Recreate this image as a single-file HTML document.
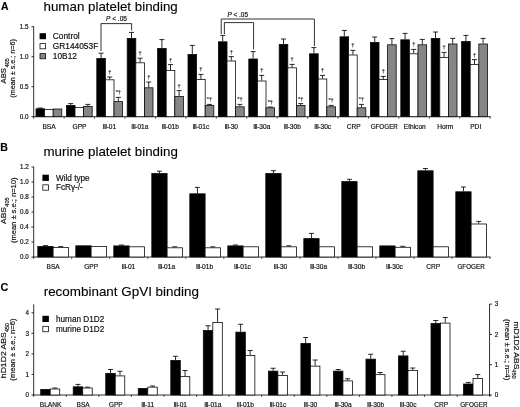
<!DOCTYPE html>
<html><head><meta charset="utf-8"><title>Figure</title>
<style>
html,body{margin:0;padding:0;background:#fff;}
svg{display:block;font-family:"Liberation Sans", Arial, sans-serif;}
</style></head>
<body>
<svg width="520" height="407" viewBox="0 0 520 407">
<rect x="0" y="0" width="520" height="407" fill="#fff"/>
<text x="1.00" y="9.60" font-size="10.4" text-anchor="start" font-weight="bold" fill="#000" stroke="#000" stroke-width="0.12">A</text>
<text x="43.50" y="10.50" font-size="13.35" text-anchor="start" textLength="134.30" lengthAdjust="spacingAndGlyphs" fill="#000" stroke="#000" stroke-width="0.12">human platelet binding</text>
<line x1="33.70" y1="26.30" x2="33.70" y2="117.10" stroke="#1a1a1a" stroke-width="0.9"/>
<line x1="33.30" y1="116.70" x2="490.60" y2="116.70" stroke="#1a1a1a" stroke-width="0.9"/>
<line x1="31.50" y1="116.70" x2="33.70" y2="116.70" stroke="#1a1a1a" stroke-width="0.9"/>
<text x="28.60" y="118.90" font-size="6.3" text-anchor="end" fill="#111" stroke="#111" stroke-width="0.18">0.0</text>
<line x1="31.50" y1="86.70" x2="33.70" y2="86.70" stroke="#1a1a1a" stroke-width="0.9"/>
<text x="28.60" y="88.90" font-size="6.3" text-anchor="end" fill="#111" stroke="#111" stroke-width="0.18">0.5</text>
<line x1="31.50" y1="56.70" x2="33.70" y2="56.70" stroke="#1a1a1a" stroke-width="0.9"/>
<text x="28.60" y="58.90" font-size="6.3" text-anchor="end" fill="#111" stroke="#111" stroke-width="0.18">1.0</text>
<line x1="31.50" y1="26.70" x2="33.70" y2="26.70" stroke="#1a1a1a" stroke-width="0.9"/>
<text x="28.60" y="28.90" font-size="6.3" text-anchor="end" fill="#111" stroke="#111" stroke-width="0.18">1.5</text>
<line x1="33.70" y1="116.70" x2="33.70" y2="118.50" stroke="#1a1a1a" stroke-width="0.9"/>
<line x1="64.13" y1="116.70" x2="64.13" y2="118.50" stroke="#1a1a1a" stroke-width="0.9"/>
<line x1="94.56" y1="116.70" x2="94.56" y2="118.50" stroke="#1a1a1a" stroke-width="0.9"/>
<line x1="124.99" y1="116.70" x2="124.99" y2="118.50" stroke="#1a1a1a" stroke-width="0.9"/>
<line x1="155.42" y1="116.70" x2="155.42" y2="118.50" stroke="#1a1a1a" stroke-width="0.9"/>
<line x1="185.85" y1="116.70" x2="185.85" y2="118.50" stroke="#1a1a1a" stroke-width="0.9"/>
<line x1="216.28" y1="116.70" x2="216.28" y2="118.50" stroke="#1a1a1a" stroke-width="0.9"/>
<line x1="246.71" y1="116.70" x2="246.71" y2="118.50" stroke="#1a1a1a" stroke-width="0.9"/>
<line x1="277.14" y1="116.70" x2="277.14" y2="118.50" stroke="#1a1a1a" stroke-width="0.9"/>
<line x1="307.57" y1="116.70" x2="307.57" y2="118.50" stroke="#1a1a1a" stroke-width="0.9"/>
<line x1="338.00" y1="116.70" x2="338.00" y2="118.50" stroke="#1a1a1a" stroke-width="0.9"/>
<line x1="368.43" y1="116.70" x2="368.43" y2="118.50" stroke="#1a1a1a" stroke-width="0.9"/>
<line x1="398.86" y1="116.70" x2="398.86" y2="118.50" stroke="#1a1a1a" stroke-width="0.9"/>
<line x1="429.29" y1="116.70" x2="429.29" y2="118.50" stroke="#1a1a1a" stroke-width="0.9"/>
<line x1="459.72" y1="116.70" x2="459.72" y2="118.50" stroke="#1a1a1a" stroke-width="0.9"/>
<line x1="490.15" y1="116.70" x2="490.15" y2="118.50" stroke="#1a1a1a" stroke-width="0.9"/>
<line x1="40.30" y1="108.00" x2="40.30" y2="108.40" stroke="#111" stroke-width="0.9"/>
<line x1="37.80" y1="108.00" x2="42.80" y2="108.00" stroke="#111" stroke-width="0.9"/>
<rect x="36.00" y="108.80" width="8.60" height="7.90" fill="#000" stroke="#0a0a0a" stroke-width="0.8"/>
<rect x="44.60" y="109.40" width="8.60" height="7.30" fill="#fff" stroke="#0a0a0a" stroke-width="0.8"/>
<rect x="53.20" y="109.00" width="8.60" height="7.70" fill="#868686" stroke="#0a0a0a" stroke-width="0.8"/>
<text x="49.00" y="128.80" font-size="6.6" text-anchor="middle" fill="#111" stroke="#111" stroke-width="0.18">BSA</text>
<line x1="70.70" y1="103.60" x2="70.70" y2="105.00" stroke="#111" stroke-width="0.9"/>
<line x1="68.20" y1="103.60" x2="73.20" y2="103.60" stroke="#111" stroke-width="0.9"/>
<rect x="66.40" y="105.40" width="8.60" height="11.30" fill="#000" stroke="#0a0a0a" stroke-width="0.8"/>
<rect x="75.00" y="107.40" width="8.60" height="9.30" fill="#fff" stroke="#0a0a0a" stroke-width="0.8"/>
<line x1="87.90" y1="104.40" x2="87.90" y2="106.00" stroke="#111" stroke-width="0.9"/>
<line x1="85.40" y1="104.40" x2="90.40" y2="104.40" stroke="#111" stroke-width="0.9"/>
<rect x="83.60" y="106.40" width="8.60" height="10.30" fill="#868686" stroke="#0a0a0a" stroke-width="0.8"/>
<text x="79.48" y="128.80" font-size="6.6" text-anchor="middle" fill="#111" stroke="#111" stroke-width="0.18">GPP</text>
<line x1="101.10" y1="53.20" x2="101.10" y2="58.00" stroke="#111" stroke-width="0.9"/>
<line x1="98.60" y1="53.20" x2="103.60" y2="53.20" stroke="#111" stroke-width="0.9"/>
<rect x="96.80" y="58.40" width="8.60" height="58.30" fill="#000" stroke="#0a0a0a" stroke-width="0.8"/>
<line x1="109.70" y1="77.00" x2="109.70" y2="79.40" stroke="#111" stroke-width="0.9"/>
<line x1="107.20" y1="77.00" x2="112.20" y2="77.00" stroke="#111" stroke-width="0.9"/>
<rect x="105.40" y="79.80" width="8.60" height="36.90" fill="#fff" stroke="#0a0a0a" stroke-width="0.8"/>
<line x1="118.30" y1="97.40" x2="118.30" y2="101.20" stroke="#111" stroke-width="0.9"/>
<line x1="115.80" y1="97.40" x2="120.80" y2="97.40" stroke="#111" stroke-width="0.9"/>
<rect x="114.00" y="101.60" width="8.60" height="15.10" fill="#868686" stroke="#0a0a0a" stroke-width="0.8"/>
<text x="109.36" y="128.80" font-size="6.6" text-anchor="middle" fill="#111" stroke="#111" stroke-width="0.18"><tspan letter-spacing="-0.5">III</tspan>-01</text>
<text x="109.70" y="74.00" font-size="5.6" text-anchor="middle" fill="#333" stroke="#333" stroke-width="0.18">†</text>
<text x="118.30" y="94.40" font-size="5.6" text-anchor="middle" fill="#333" stroke="#333" stroke-width="0.18">*†</text>
<line x1="131.50" y1="32.40" x2="131.50" y2="38.00" stroke="#111" stroke-width="0.9"/>
<line x1="129.00" y1="32.40" x2="134.00" y2="32.40" stroke="#111" stroke-width="0.9"/>
<rect x="127.20" y="38.40" width="8.60" height="78.30" fill="#000" stroke="#0a0a0a" stroke-width="0.8"/>
<line x1="140.10" y1="58.20" x2="140.10" y2="62.40" stroke="#111" stroke-width="0.9"/>
<line x1="137.60" y1="58.20" x2="142.60" y2="58.20" stroke="#111" stroke-width="0.9"/>
<rect x="135.80" y="62.80" width="8.60" height="53.90" fill="#fff" stroke="#0a0a0a" stroke-width="0.8"/>
<line x1="148.70" y1="82.00" x2="148.70" y2="87.40" stroke="#111" stroke-width="0.9"/>
<line x1="146.20" y1="82.00" x2="151.20" y2="82.00" stroke="#111" stroke-width="0.9"/>
<rect x="144.40" y="87.80" width="8.60" height="28.90" fill="#868686" stroke="#0a0a0a" stroke-width="0.8"/>
<text x="139.84" y="128.80" font-size="6.6" text-anchor="middle" fill="#111" stroke="#111" stroke-width="0.18"><tspan letter-spacing="-0.5">III</tspan>-01a</text>
<text x="140.10" y="55.20" font-size="5.6" text-anchor="middle" fill="#333" stroke="#333" stroke-width="0.18">†</text>
<text x="148.70" y="79.00" font-size="5.6" text-anchor="middle" fill="#333" stroke="#333" stroke-width="0.18">†</text>
<line x1="161.90" y1="39.60" x2="161.90" y2="48.00" stroke="#111" stroke-width="0.9"/>
<line x1="159.40" y1="39.60" x2="164.40" y2="39.60" stroke="#111" stroke-width="0.9"/>
<rect x="157.60" y="48.40" width="8.60" height="68.30" fill="#000" stroke="#0a0a0a" stroke-width="0.8"/>
<line x1="170.50" y1="64.60" x2="170.50" y2="70.00" stroke="#111" stroke-width="0.9"/>
<line x1="168.00" y1="64.60" x2="173.00" y2="64.60" stroke="#111" stroke-width="0.9"/>
<rect x="166.20" y="70.40" width="8.60" height="46.30" fill="#fff" stroke="#0a0a0a" stroke-width="0.8"/>
<line x1="179.10" y1="90.60" x2="179.10" y2="96.00" stroke="#111" stroke-width="0.9"/>
<line x1="176.60" y1="90.60" x2="181.60" y2="90.60" stroke="#111" stroke-width="0.9"/>
<rect x="174.80" y="96.40" width="8.60" height="20.30" fill="#868686" stroke="#0a0a0a" stroke-width="0.8"/>
<text x="170.32" y="128.80" font-size="6.6" text-anchor="middle" fill="#111" stroke="#111" stroke-width="0.18"><tspan letter-spacing="-0.5">III</tspan>-01b</text>
<text x="170.50" y="61.60" font-size="5.6" text-anchor="middle" fill="#333" stroke="#333" stroke-width="0.18">†</text>
<text x="179.10" y="87.60" font-size="5.6" text-anchor="middle" fill="#333" stroke="#333" stroke-width="0.18">†</text>
<line x1="192.30" y1="45.40" x2="192.30" y2="54.00" stroke="#111" stroke-width="0.9"/>
<line x1="189.80" y1="45.40" x2="194.80" y2="45.40" stroke="#111" stroke-width="0.9"/>
<rect x="188.00" y="54.40" width="8.60" height="62.30" fill="#000" stroke="#0a0a0a" stroke-width="0.8"/>
<line x1="200.90" y1="74.40" x2="200.90" y2="79.00" stroke="#111" stroke-width="0.9"/>
<line x1="198.40" y1="74.40" x2="203.40" y2="74.40" stroke="#111" stroke-width="0.9"/>
<rect x="196.60" y="79.40" width="8.60" height="37.30" fill="#fff" stroke="#0a0a0a" stroke-width="0.8"/>
<line x1="209.50" y1="104.40" x2="209.50" y2="105.00" stroke="#111" stroke-width="0.9"/>
<line x1="207.00" y1="104.40" x2="212.00" y2="104.40" stroke="#111" stroke-width="0.9"/>
<rect x="205.20" y="105.40" width="8.60" height="11.30" fill="#868686" stroke="#0a0a0a" stroke-width="0.8"/>
<text x="200.80" y="128.80" font-size="6.6" text-anchor="middle" fill="#111" stroke="#111" stroke-width="0.18"><tspan letter-spacing="-0.5">III</tspan>-01c</text>
<text x="200.90" y="71.40" font-size="5.6" text-anchor="middle" fill="#333" stroke="#333" stroke-width="0.18">†</text>
<text x="209.50" y="101.40" font-size="5.6" text-anchor="middle" fill="#333" stroke="#333" stroke-width="0.18">*†</text>
<line x1="222.70" y1="35.40" x2="222.70" y2="41.40" stroke="#111" stroke-width="0.9"/>
<line x1="220.20" y1="35.40" x2="225.20" y2="35.40" stroke="#111" stroke-width="0.9"/>
<rect x="218.40" y="41.80" width="8.60" height="74.90" fill="#000" stroke="#0a0a0a" stroke-width="0.8"/>
<line x1="231.30" y1="56.60" x2="231.30" y2="60.60" stroke="#111" stroke-width="0.9"/>
<line x1="228.80" y1="56.60" x2="233.80" y2="56.60" stroke="#111" stroke-width="0.9"/>
<rect x="227.00" y="61.00" width="8.60" height="55.70" fill="#fff" stroke="#0a0a0a" stroke-width="0.8"/>
<line x1="239.90" y1="104.40" x2="239.90" y2="106.40" stroke="#111" stroke-width="0.9"/>
<line x1="237.40" y1="104.40" x2="242.40" y2="104.40" stroke="#111" stroke-width="0.9"/>
<rect x="235.60" y="106.80" width="8.60" height="9.90" fill="#868686" stroke="#0a0a0a" stroke-width="0.8"/>
<text x="231.28" y="128.80" font-size="6.6" text-anchor="middle" fill="#111" stroke="#111" stroke-width="0.18"><tspan letter-spacing="-0.5">III</tspan>-30</text>
<text x="231.30" y="53.60" font-size="5.6" text-anchor="middle" fill="#333" stroke="#333" stroke-width="0.18">†</text>
<text x="239.90" y="101.40" font-size="5.6" text-anchor="middle" fill="#333" stroke="#333" stroke-width="0.18">*†</text>
<line x1="253.10" y1="51.60" x2="253.10" y2="58.60" stroke="#111" stroke-width="0.9"/>
<line x1="250.60" y1="51.60" x2="255.60" y2="51.60" stroke="#111" stroke-width="0.9"/>
<rect x="248.80" y="59.00" width="8.60" height="57.70" fill="#000" stroke="#0a0a0a" stroke-width="0.8"/>
<line x1="261.70" y1="75.40" x2="261.70" y2="80.60" stroke="#111" stroke-width="0.9"/>
<line x1="259.20" y1="75.40" x2="264.20" y2="75.40" stroke="#111" stroke-width="0.9"/>
<rect x="257.40" y="81.00" width="8.60" height="35.70" fill="#fff" stroke="#0a0a0a" stroke-width="0.8"/>
<line x1="270.30" y1="107.00" x2="270.30" y2="107.40" stroke="#111" stroke-width="0.9"/>
<line x1="267.80" y1="107.00" x2="272.80" y2="107.00" stroke="#111" stroke-width="0.9"/>
<rect x="266.00" y="107.80" width="8.60" height="8.90" fill="#868686" stroke="#0a0a0a" stroke-width="0.8"/>
<text x="261.76" y="128.80" font-size="6.6" text-anchor="middle" fill="#111" stroke="#111" stroke-width="0.18"><tspan letter-spacing="-0.5">III</tspan>-30a</text>
<text x="261.70" y="72.40" font-size="5.6" text-anchor="middle" fill="#333" stroke="#333" stroke-width="0.18">†</text>
<text x="270.30" y="104.00" font-size="5.6" text-anchor="middle" fill="#333" stroke="#333" stroke-width="0.18">*†</text>
<line x1="283.50" y1="39.00" x2="283.50" y2="44.00" stroke="#111" stroke-width="0.9"/>
<line x1="281.00" y1="39.00" x2="286.00" y2="39.00" stroke="#111" stroke-width="0.9"/>
<rect x="279.20" y="44.40" width="8.60" height="72.30" fill="#000" stroke="#0a0a0a" stroke-width="0.8"/>
<line x1="292.10" y1="64.40" x2="292.10" y2="67.40" stroke="#111" stroke-width="0.9"/>
<line x1="289.60" y1="64.40" x2="294.60" y2="64.40" stroke="#111" stroke-width="0.9"/>
<rect x="287.80" y="67.80" width="8.60" height="48.90" fill="#fff" stroke="#0a0a0a" stroke-width="0.8"/>
<line x1="300.70" y1="103.60" x2="300.70" y2="105.00" stroke="#111" stroke-width="0.9"/>
<line x1="298.20" y1="103.60" x2="303.20" y2="103.60" stroke="#111" stroke-width="0.9"/>
<rect x="296.40" y="105.40" width="8.60" height="11.30" fill="#868686" stroke="#0a0a0a" stroke-width="0.8"/>
<text x="292.24" y="128.80" font-size="6.6" text-anchor="middle" fill="#111" stroke="#111" stroke-width="0.18"><tspan letter-spacing="-0.5">III</tspan>-30b</text>
<text x="292.10" y="61.40" font-size="5.6" text-anchor="middle" fill="#333" stroke="#333" stroke-width="0.18">†</text>
<text x="300.70" y="100.60" font-size="5.6" text-anchor="middle" fill="#333" stroke="#333" stroke-width="0.18">*†</text>
<line x1="313.90" y1="47.60" x2="313.90" y2="53.40" stroke="#111" stroke-width="0.9"/>
<line x1="311.40" y1="47.60" x2="316.40" y2="47.60" stroke="#111" stroke-width="0.9"/>
<rect x="309.60" y="53.80" width="8.60" height="62.90" fill="#000" stroke="#0a0a0a" stroke-width="0.8"/>
<line x1="322.50" y1="75.40" x2="322.50" y2="78.60" stroke="#111" stroke-width="0.9"/>
<line x1="320.00" y1="75.40" x2="325.00" y2="75.40" stroke="#111" stroke-width="0.9"/>
<rect x="318.20" y="79.00" width="8.60" height="37.70" fill="#fff" stroke="#0a0a0a" stroke-width="0.8"/>
<line x1="331.10" y1="105.40" x2="331.10" y2="106.40" stroke="#111" stroke-width="0.9"/>
<line x1="328.60" y1="105.40" x2="333.60" y2="105.40" stroke="#111" stroke-width="0.9"/>
<rect x="326.80" y="106.80" width="8.60" height="9.90" fill="#868686" stroke="#0a0a0a" stroke-width="0.8"/>
<text x="322.72" y="128.80" font-size="6.6" text-anchor="middle" fill="#111" stroke="#111" stroke-width="0.18"><tspan letter-spacing="-0.5">III</tspan>-30c</text>
<text x="322.50" y="72.40" font-size="5.6" text-anchor="middle" fill="#333" stroke="#333" stroke-width="0.18">†</text>
<text x="331.10" y="102.40" font-size="5.6" text-anchor="middle" fill="#333" stroke="#333" stroke-width="0.18">*†</text>
<line x1="344.30" y1="30.40" x2="344.30" y2="36.40" stroke="#111" stroke-width="0.9"/>
<line x1="341.80" y1="30.40" x2="346.80" y2="30.40" stroke="#111" stroke-width="0.9"/>
<rect x="340.00" y="36.80" width="8.60" height="79.90" fill="#000" stroke="#0a0a0a" stroke-width="0.8"/>
<line x1="352.90" y1="50.40" x2="352.90" y2="54.60" stroke="#111" stroke-width="0.9"/>
<line x1="350.40" y1="50.40" x2="355.40" y2="50.40" stroke="#111" stroke-width="0.9"/>
<rect x="348.60" y="55.00" width="8.60" height="61.70" fill="#fff" stroke="#0a0a0a" stroke-width="0.8"/>
<line x1="361.50" y1="104.40" x2="361.50" y2="107.40" stroke="#111" stroke-width="0.9"/>
<line x1="359.00" y1="104.40" x2="364.00" y2="104.40" stroke="#111" stroke-width="0.9"/>
<rect x="357.20" y="107.80" width="8.60" height="8.90" fill="#868686" stroke="#0a0a0a" stroke-width="0.8"/>
<text x="353.80" y="128.80" font-size="6.6" text-anchor="middle" fill="#111" stroke="#111" stroke-width="0.18">CRP</text>
<text x="352.90" y="47.40" font-size="5.6" text-anchor="middle" fill="#333" stroke="#333" stroke-width="0.18">†</text>
<text x="361.50" y="101.40" font-size="5.6" text-anchor="middle" fill="#333" stroke="#333" stroke-width="0.18">*†</text>
<line x1="374.70" y1="37.00" x2="374.70" y2="42.00" stroke="#111" stroke-width="0.9"/>
<line x1="372.20" y1="37.00" x2="377.20" y2="37.00" stroke="#111" stroke-width="0.9"/>
<rect x="370.40" y="42.40" width="8.60" height="74.30" fill="#000" stroke="#0a0a0a" stroke-width="0.8"/>
<line x1="383.30" y1="76.40" x2="383.30" y2="79.00" stroke="#111" stroke-width="0.9"/>
<line x1="380.80" y1="76.40" x2="385.80" y2="76.40" stroke="#111" stroke-width="0.9"/>
<rect x="379.00" y="79.40" width="8.60" height="37.30" fill="#fff" stroke="#0a0a0a" stroke-width="0.8"/>
<line x1="391.90" y1="38.60" x2="391.90" y2="44.40" stroke="#111" stroke-width="0.9"/>
<line x1="389.40" y1="38.60" x2="394.40" y2="38.60" stroke="#111" stroke-width="0.9"/>
<rect x="387.60" y="44.80" width="8.60" height="71.90" fill="#868686" stroke="#0a0a0a" stroke-width="0.8"/>
<text x="384.28" y="128.80" font-size="6.6" text-anchor="middle" fill="#111" stroke="#111" stroke-width="0.18"><tspan font-size="6.3">GFOGER</tspan></text>
<text x="383.30" y="73.40" font-size="5.6" text-anchor="middle" fill="#333" stroke="#333" stroke-width="0.18">†</text>
<line x1="405.10" y1="33.40" x2="405.10" y2="39.40" stroke="#111" stroke-width="0.9"/>
<line x1="402.60" y1="33.40" x2="407.60" y2="33.40" stroke="#111" stroke-width="0.9"/>
<rect x="400.80" y="39.80" width="8.60" height="76.90" fill="#000" stroke="#0a0a0a" stroke-width="0.8"/>
<line x1="413.70" y1="49.40" x2="413.70" y2="53.40" stroke="#111" stroke-width="0.9"/>
<line x1="411.20" y1="49.40" x2="416.20" y2="49.40" stroke="#111" stroke-width="0.9"/>
<rect x="409.40" y="53.80" width="8.60" height="62.90" fill="#fff" stroke="#0a0a0a" stroke-width="0.8"/>
<line x1="422.30" y1="39.40" x2="422.30" y2="44.40" stroke="#111" stroke-width="0.9"/>
<line x1="419.80" y1="39.40" x2="424.80" y2="39.40" stroke="#111" stroke-width="0.9"/>
<rect x="418.00" y="44.80" width="8.60" height="71.90" fill="#868686" stroke="#0a0a0a" stroke-width="0.8"/>
<text x="414.76" y="128.80" font-size="6.6" text-anchor="middle" fill="#111" stroke="#111" stroke-width="0.18">Ethicon</text>
<text x="413.70" y="46.40" font-size="5.6" text-anchor="middle" fill="#333" stroke="#333" stroke-width="0.18">†</text>
<line x1="435.50" y1="32.00" x2="435.50" y2="38.00" stroke="#111" stroke-width="0.9"/>
<line x1="433.00" y1="32.00" x2="438.00" y2="32.00" stroke="#111" stroke-width="0.9"/>
<rect x="431.20" y="38.40" width="8.60" height="78.30" fill="#000" stroke="#0a0a0a" stroke-width="0.8"/>
<line x1="444.10" y1="52.40" x2="444.10" y2="57.00" stroke="#111" stroke-width="0.9"/>
<line x1="441.60" y1="52.40" x2="446.60" y2="52.40" stroke="#111" stroke-width="0.9"/>
<rect x="439.80" y="57.40" width="8.60" height="59.30" fill="#fff" stroke="#0a0a0a" stroke-width="0.8"/>
<line x1="452.70" y1="38.40" x2="452.70" y2="43.60" stroke="#111" stroke-width="0.9"/>
<line x1="450.20" y1="38.40" x2="455.20" y2="38.40" stroke="#111" stroke-width="0.9"/>
<rect x="448.40" y="44.00" width="8.60" height="72.70" fill="#868686" stroke="#0a0a0a" stroke-width="0.8"/>
<text x="445.24" y="128.80" font-size="6.6" text-anchor="middle" fill="#111" stroke="#111" stroke-width="0.18">Horm</text>
<text x="444.10" y="49.40" font-size="5.6" text-anchor="middle" fill="#333" stroke="#333" stroke-width="0.18">†</text>
<line x1="465.90" y1="35.40" x2="465.90" y2="41.00" stroke="#111" stroke-width="0.9"/>
<line x1="463.40" y1="35.40" x2="468.40" y2="35.40" stroke="#111" stroke-width="0.9"/>
<rect x="461.60" y="41.40" width="8.60" height="75.30" fill="#000" stroke="#0a0a0a" stroke-width="0.8"/>
<line x1="474.50" y1="59.60" x2="474.50" y2="64.00" stroke="#111" stroke-width="0.9"/>
<line x1="472.00" y1="59.60" x2="477.00" y2="59.60" stroke="#111" stroke-width="0.9"/>
<rect x="470.20" y="64.40" width="8.60" height="52.30" fill="#fff" stroke="#0a0a0a" stroke-width="0.8"/>
<line x1="483.10" y1="38.40" x2="483.10" y2="43.60" stroke="#111" stroke-width="0.9"/>
<line x1="480.60" y1="38.40" x2="485.60" y2="38.40" stroke="#111" stroke-width="0.9"/>
<rect x="478.80" y="44.00" width="8.60" height="72.70" fill="#868686" stroke="#0a0a0a" stroke-width="0.8"/>
<text x="475.72" y="128.80" font-size="6.6" text-anchor="middle" fill="#111" stroke="#111" stroke-width="0.18">PDI</text>
<text x="474.50" y="56.60" font-size="5.6" text-anchor="middle" fill="#333" stroke="#333" stroke-width="0.18">†</text>
<rect x="39.6" y="33.20" width="6.4" height="6.0" fill="#000"/>
<text x="52.80" y="38.90" font-size="8.35" text-anchor="start" fill="#111" stroke="#111" stroke-width="0.18">Control</text>
<rect x="40.0" y="43.60" width="5.6" height="5.2" fill="#fff" stroke="#111" stroke-width="0.8"/>
<text x="52.80" y="49.05" font-size="8.35" text-anchor="start" fill="#111" stroke="#111" stroke-width="0.18">GR144053F</text>
<rect x="40.0" y="53.60" width="5.6" height="5.2" fill="#868686" stroke="#111" stroke-width="0.8"/>
<text x="52.80" y="59.20" font-size="8.35" text-anchor="start" fill="#111" stroke="#111" stroke-width="0.18">10B12</text>
<polyline fill="none" stroke="#1c1c1c" stroke-width="0.9" points="101.00,51.00 101.00,23.60 131.60,23.60 131.60,30.50"/>
<text x="106.00" y="21.00" font-size="6.3" text-anchor="start" textLength="21.00" lengthAdjust="spacingAndGlyphs" fill="#111" stroke="#111" stroke-width="0.18"><tspan font-style="italic">P</tspan> &lt; .05</text>
<polyline fill="none" stroke="#1c1c1c" stroke-width="0.9" points="221.20,34.00 221.20,19.00 314.40,19.00 314.40,46.00"/>
<polyline fill="none" stroke="#1c1c1c" stroke-width="0.9" points="224.40,34.00 224.40,22.60 253.60,22.60 253.60,49.40"/>
<text x="227.40" y="16.60" font-size="6.3" text-anchor="start" textLength="20.60" lengthAdjust="spacingAndGlyphs" fill="#111" stroke="#111" stroke-width="0.18"><tspan font-style="italic">P</tspan> &lt; .05</text>
<text x="5.90" y="83.45" font-size="7.1" text-anchor="start" textLength="15.40" lengthAdjust="spacingAndGlyphs" transform="rotate(-90 5.90 83.45)" fill="#111" stroke="#111" stroke-width="0.18">ABS</text>
<text x="9.30" y="67.25" font-size="5.6" text-anchor="start" textLength="8.90" lengthAdjust="spacingAndGlyphs" transform="rotate(-90 9.30 67.25)" fill="#111" stroke="#111" stroke-width="0.18">405</text>
<text x="15.20" y="97.65" font-size="7.1" text-anchor="start" textLength="58.60" lengthAdjust="spacingAndGlyphs" transform="rotate(-90 15.20 97.65)" fill="#111" stroke="#111" stroke-width="0.18">(mean ± s.e.; n=6)</text>
<text x="0.30" y="151.20" font-size="10.6" text-anchor="start" font-weight="bold" fill="#000" stroke="#000" stroke-width="0.12">B</text>
<text x="43.50" y="156.30" font-size="13.35" text-anchor="start" textLength="134.30" lengthAdjust="spacingAndGlyphs" fill="#000" stroke="#000" stroke-width="0.12">murine platelet binding</text>
<line x1="33.70" y1="166.60" x2="33.70" y2="257.40" stroke="#1a1a1a" stroke-width="0.9"/>
<line x1="33.30" y1="257.00" x2="490.60" y2="257.00" stroke="#1a1a1a" stroke-width="0.9"/>
<line x1="31.50" y1="257.00" x2="33.70" y2="257.00" stroke="#1a1a1a" stroke-width="0.9"/>
<text x="28.80" y="259.20" font-size="6.3" text-anchor="end" fill="#111" stroke="#111" stroke-width="0.18">0.0</text>
<line x1="31.50" y1="242.00" x2="33.70" y2="242.00" stroke="#1a1a1a" stroke-width="0.9"/>
<text x="28.80" y="244.20" font-size="6.3" text-anchor="end" fill="#111" stroke="#111" stroke-width="0.18">0.2</text>
<line x1="31.50" y1="227.00" x2="33.70" y2="227.00" stroke="#1a1a1a" stroke-width="0.9"/>
<text x="28.80" y="229.20" font-size="6.3" text-anchor="end" fill="#111" stroke="#111" stroke-width="0.18">0.4</text>
<line x1="31.50" y1="212.00" x2="33.70" y2="212.00" stroke="#1a1a1a" stroke-width="0.9"/>
<text x="28.80" y="214.20" font-size="6.3" text-anchor="end" fill="#111" stroke="#111" stroke-width="0.18">0.6</text>
<line x1="31.50" y1="197.00" x2="33.70" y2="197.00" stroke="#1a1a1a" stroke-width="0.9"/>
<text x="28.80" y="199.20" font-size="6.3" text-anchor="end" fill="#111" stroke="#111" stroke-width="0.18">0.8</text>
<line x1="31.50" y1="182.00" x2="33.70" y2="182.00" stroke="#1a1a1a" stroke-width="0.9"/>
<text x="28.80" y="184.20" font-size="6.3" text-anchor="end" fill="#111" stroke="#111" stroke-width="0.18">1.0</text>
<line x1="31.50" y1="167.00" x2="33.70" y2="167.00" stroke="#1a1a1a" stroke-width="0.9"/>
<text x="28.80" y="169.20" font-size="6.3" text-anchor="end" fill="#111" stroke="#111" stroke-width="0.18">1.2</text>
<line x1="33.70" y1="257.00" x2="33.70" y2="258.80" stroke="#1a1a1a" stroke-width="0.9"/>
<line x1="71.73" y1="257.00" x2="71.73" y2="258.80" stroke="#1a1a1a" stroke-width="0.9"/>
<line x1="109.76" y1="257.00" x2="109.76" y2="258.80" stroke="#1a1a1a" stroke-width="0.9"/>
<line x1="147.79" y1="257.00" x2="147.79" y2="258.80" stroke="#1a1a1a" stroke-width="0.9"/>
<line x1="185.82" y1="257.00" x2="185.82" y2="258.80" stroke="#1a1a1a" stroke-width="0.9"/>
<line x1="223.85" y1="257.00" x2="223.85" y2="258.80" stroke="#1a1a1a" stroke-width="0.9"/>
<line x1="261.88" y1="257.00" x2="261.88" y2="258.80" stroke="#1a1a1a" stroke-width="0.9"/>
<line x1="299.91" y1="257.00" x2="299.91" y2="258.80" stroke="#1a1a1a" stroke-width="0.9"/>
<line x1="337.94" y1="257.00" x2="337.94" y2="258.80" stroke="#1a1a1a" stroke-width="0.9"/>
<line x1="375.97" y1="257.00" x2="375.97" y2="258.80" stroke="#1a1a1a" stroke-width="0.9"/>
<line x1="414.00" y1="257.00" x2="414.00" y2="258.80" stroke="#1a1a1a" stroke-width="0.9"/>
<line x1="452.03" y1="257.00" x2="452.03" y2="258.80" stroke="#1a1a1a" stroke-width="0.9"/>
<line x1="490.06" y1="257.00" x2="490.06" y2="258.80" stroke="#1a1a1a" stroke-width="0.9"/>
<line x1="45.45" y1="245.60" x2="45.45" y2="246.00" stroke="#111" stroke-width="0.9"/>
<line x1="42.95" y1="245.60" x2="47.95" y2="245.60" stroke="#111" stroke-width="0.9"/>
<rect x="37.80" y="246.40" width="15.30" height="10.60" fill="#000" stroke="#0a0a0a" stroke-width="0.8"/>
<line x1="60.75" y1="246.60" x2="60.75" y2="247.00" stroke="#111" stroke-width="0.9"/>
<line x1="58.25" y1="246.60" x2="63.25" y2="246.60" stroke="#111" stroke-width="0.9"/>
<rect x="53.10" y="247.40" width="15.30" height="9.60" fill="#fff" stroke="#0a0a0a" stroke-width="0.8"/>
<text x="53.10" y="269.40" font-size="6.6" text-anchor="middle" fill="#111" stroke="#111" stroke-width="0.18">BSA</text>
<rect x="75.80" y="245.80" width="15.30" height="11.20" fill="#000" stroke="#0a0a0a" stroke-width="0.8"/>
<rect x="91.10" y="246.40" width="15.30" height="10.60" fill="#fff" stroke="#0a0a0a" stroke-width="0.8"/>
<text x="91.10" y="269.40" font-size="6.6" text-anchor="middle" fill="#111" stroke="#111" stroke-width="0.18">GPP</text>
<line x1="121.45" y1="245.00" x2="121.45" y2="245.50" stroke="#111" stroke-width="0.9"/>
<line x1="118.95" y1="245.00" x2="123.95" y2="245.00" stroke="#111" stroke-width="0.9"/>
<rect x="113.80" y="245.90" width="15.30" height="11.10" fill="#000" stroke="#0a0a0a" stroke-width="0.8"/>
<rect x="129.10" y="246.80" width="15.30" height="10.20" fill="#fff" stroke="#0a0a0a" stroke-width="0.8"/>
<text x="128.50" y="269.40" font-size="6.6" text-anchor="middle" fill="#111" stroke="#111" stroke-width="0.18"><tspan letter-spacing="-0.5">III</tspan>-01</text>
<line x1="159.45" y1="171.20" x2="159.45" y2="173.10" stroke="#111" stroke-width="0.9"/>
<line x1="156.95" y1="171.20" x2="161.95" y2="171.20" stroke="#111" stroke-width="0.9"/>
<rect x="151.80" y="173.50" width="15.30" height="83.50" fill="#000" stroke="#0a0a0a" stroke-width="0.8"/>
<line x1="174.75" y1="246.80" x2="174.75" y2="247.40" stroke="#111" stroke-width="0.9"/>
<line x1="172.25" y1="246.80" x2="177.25" y2="246.80" stroke="#111" stroke-width="0.9"/>
<rect x="167.10" y="247.80" width="15.30" height="9.20" fill="#fff" stroke="#0a0a0a" stroke-width="0.8"/>
<text x="166.50" y="269.40" font-size="6.6" text-anchor="middle" fill="#111" stroke="#111" stroke-width="0.18"><tspan letter-spacing="-0.5">III</tspan>-01a</text>
<line x1="197.45" y1="187.40" x2="197.45" y2="193.40" stroke="#111" stroke-width="0.9"/>
<line x1="194.95" y1="187.40" x2="199.95" y2="187.40" stroke="#111" stroke-width="0.9"/>
<rect x="189.80" y="193.80" width="15.30" height="63.20" fill="#000" stroke="#0a0a0a" stroke-width="0.8"/>
<line x1="212.75" y1="246.80" x2="212.75" y2="247.40" stroke="#111" stroke-width="0.9"/>
<line x1="210.25" y1="246.80" x2="215.25" y2="246.80" stroke="#111" stroke-width="0.9"/>
<rect x="205.10" y="247.80" width="15.30" height="9.20" fill="#fff" stroke="#0a0a0a" stroke-width="0.8"/>
<text x="204.50" y="269.40" font-size="6.6" text-anchor="middle" fill="#111" stroke="#111" stroke-width="0.18"><tspan letter-spacing="-0.5">III</tspan>-01b</text>
<line x1="235.45" y1="245.00" x2="235.45" y2="245.50" stroke="#111" stroke-width="0.9"/>
<line x1="232.95" y1="245.00" x2="237.95" y2="245.00" stroke="#111" stroke-width="0.9"/>
<rect x="227.80" y="245.90" width="15.30" height="11.10" fill="#000" stroke="#0a0a0a" stroke-width="0.8"/>
<rect x="243.10" y="246.80" width="15.30" height="10.20" fill="#fff" stroke="#0a0a0a" stroke-width="0.8"/>
<text x="242.50" y="269.40" font-size="6.6" text-anchor="middle" fill="#111" stroke="#111" stroke-width="0.18"><tspan letter-spacing="-0.5">III</tspan>-01c</text>
<line x1="273.45" y1="170.70" x2="273.45" y2="173.10" stroke="#111" stroke-width="0.9"/>
<line x1="270.95" y1="170.70" x2="275.95" y2="170.70" stroke="#111" stroke-width="0.9"/>
<rect x="265.80" y="173.50" width="15.30" height="83.50" fill="#000" stroke="#0a0a0a" stroke-width="0.8"/>
<line x1="288.75" y1="245.80" x2="288.75" y2="246.40" stroke="#111" stroke-width="0.9"/>
<line x1="286.25" y1="245.80" x2="291.25" y2="245.80" stroke="#111" stroke-width="0.9"/>
<rect x="281.10" y="246.80" width="15.30" height="10.20" fill="#fff" stroke="#0a0a0a" stroke-width="0.8"/>
<text x="280.50" y="269.40" font-size="6.6" text-anchor="middle" fill="#111" stroke="#111" stroke-width="0.18"><tspan letter-spacing="-0.5">III</tspan>-30</text>
<line x1="311.45" y1="233.40" x2="311.45" y2="238.20" stroke="#111" stroke-width="0.9"/>
<line x1="308.95" y1="233.40" x2="313.95" y2="233.40" stroke="#111" stroke-width="0.9"/>
<rect x="303.80" y="238.60" width="15.30" height="18.40" fill="#000" stroke="#0a0a0a" stroke-width="0.8"/>
<rect x="319.10" y="246.80" width="15.30" height="10.20" fill="#fff" stroke="#0a0a0a" stroke-width="0.8"/>
<text x="318.50" y="269.40" font-size="6.6" text-anchor="middle" fill="#111" stroke="#111" stroke-width="0.18"><tspan letter-spacing="-0.5">III</tspan>-30a</text>
<line x1="349.45" y1="179.30" x2="349.45" y2="181.20" stroke="#111" stroke-width="0.9"/>
<line x1="346.95" y1="179.30" x2="351.95" y2="179.30" stroke="#111" stroke-width="0.9"/>
<rect x="341.80" y="181.60" width="15.30" height="75.40" fill="#000" stroke="#0a0a0a" stroke-width="0.8"/>
<rect x="357.10" y="246.80" width="15.30" height="10.20" fill="#fff" stroke="#0a0a0a" stroke-width="0.8"/>
<text x="356.50" y="269.40" font-size="6.6" text-anchor="middle" fill="#111" stroke="#111" stroke-width="0.18"><tspan letter-spacing="-0.5">III</tspan>-30b</text>
<rect x="379.80" y="245.90" width="15.30" height="11.10" fill="#000" stroke="#0a0a0a" stroke-width="0.8"/>
<line x1="402.75" y1="246.30" x2="402.75" y2="246.90" stroke="#111" stroke-width="0.9"/>
<line x1="400.25" y1="246.30" x2="405.25" y2="246.30" stroke="#111" stroke-width="0.9"/>
<rect x="395.10" y="247.30" width="15.30" height="9.70" fill="#fff" stroke="#0a0a0a" stroke-width="0.8"/>
<text x="394.50" y="269.40" font-size="6.6" text-anchor="middle" fill="#111" stroke="#111" stroke-width="0.18"><tspan letter-spacing="-0.5">III</tspan>-30c</text>
<line x1="425.45" y1="168.50" x2="425.45" y2="170.40" stroke="#111" stroke-width="0.9"/>
<line x1="422.95" y1="168.50" x2="427.95" y2="168.50" stroke="#111" stroke-width="0.9"/>
<rect x="417.80" y="170.80" width="15.30" height="86.20" fill="#000" stroke="#0a0a0a" stroke-width="0.8"/>
<rect x="433.10" y="246.80" width="15.30" height="10.20" fill="#fff" stroke="#0a0a0a" stroke-width="0.8"/>
<text x="433.10" y="269.40" font-size="6.6" text-anchor="middle" fill="#111" stroke="#111" stroke-width="0.18">CRP</text>
<line x1="463.45" y1="187.00" x2="463.45" y2="191.40" stroke="#111" stroke-width="0.9"/>
<line x1="460.95" y1="187.00" x2="465.95" y2="187.00" stroke="#111" stroke-width="0.9"/>
<rect x="455.80" y="191.80" width="15.30" height="65.20" fill="#000" stroke="#0a0a0a" stroke-width="0.8"/>
<line x1="478.75" y1="221.40" x2="478.75" y2="223.60" stroke="#111" stroke-width="0.9"/>
<line x1="476.25" y1="221.40" x2="481.25" y2="221.40" stroke="#111" stroke-width="0.9"/>
<rect x="471.10" y="224.00" width="15.30" height="33.00" fill="#fff" stroke="#0a0a0a" stroke-width="0.8"/>
<text x="471.10" y="269.40" font-size="6.6" text-anchor="middle" fill="#111" stroke="#111" stroke-width="0.18"><tspan font-size="6.3">GFOGER</tspan></text>
<rect x="42.4" y="174.70" width="6.5" height="6.2" fill="#000"/>
<text x="56.00" y="180.70" font-size="8.2" text-anchor="start" fill="#111" stroke="#111" stroke-width="0.18">Wild type</text>
<rect x="42.8" y="184.80" width="5.7" height="5.4" fill="#fff" stroke="#111" stroke-width="0.8"/>
<text x="56.00" y="190.40" font-size="8.2" text-anchor="start" fill="#111" stroke="#111" stroke-width="0.18">FcRγ-/-</text>
<text x="6.20" y="223.95" font-size="7.5" text-anchor="start" textLength="16.90" lengthAdjust="spacingAndGlyphs" transform="rotate(-90 6.20 223.95)" fill="#111" stroke="#111" stroke-width="0.18">ABS</text>
<text x="9.40" y="206.65" font-size="5.6" text-anchor="start" textLength="9.30" lengthAdjust="spacingAndGlyphs" transform="rotate(-90 9.40 206.65)" fill="#111" stroke="#111" stroke-width="0.18">405</text>
<text x="15.60" y="243.05" font-size="7.3" text-anchor="start" textLength="65.50" lengthAdjust="spacingAndGlyphs" transform="rotate(-90 15.60 243.05)" fill="#111" stroke="#111" stroke-width="0.18">(mean ± s.e.; n=10)</text>
<text x="0.50" y="291.00" font-size="10.8" text-anchor="start" font-weight="bold" fill="#000" stroke="#000" stroke-width="0.12">C</text>
<text x="43.70" y="296.40" font-size="13.35" text-anchor="start" textLength="155.20" lengthAdjust="spacingAndGlyphs" fill="#000" stroke="#000" stroke-width="0.12">recombinant GpVI binding</text>
<line x1="33.70" y1="304.40" x2="33.70" y2="395.40" stroke="#1a1a1a" stroke-width="0.9"/>
<line x1="33.30" y1="395.00" x2="490.40" y2="395.00" stroke="#1a1a1a" stroke-width="0.9"/>
<line x1="489.55" y1="304.00" x2="489.55" y2="395.40" stroke="#1a1a1a" stroke-width="0.9"/>
<line x1="31.50" y1="395.00" x2="33.70" y2="395.00" stroke="#1a1a1a" stroke-width="0.9"/>
<text x="29.00" y="397.20" font-size="6.3" text-anchor="end" fill="#111" stroke="#111" stroke-width="0.18">0</text>
<line x1="31.50" y1="374.45" x2="33.70" y2="374.45" stroke="#1a1a1a" stroke-width="0.9"/>
<text x="29.00" y="376.65" font-size="6.3" text-anchor="end" fill="#111" stroke="#111" stroke-width="0.18">1</text>
<line x1="31.50" y1="353.90" x2="33.70" y2="353.90" stroke="#1a1a1a" stroke-width="0.9"/>
<text x="29.00" y="356.10" font-size="6.3" text-anchor="end" fill="#111" stroke="#111" stroke-width="0.18">2</text>
<line x1="31.50" y1="333.35" x2="33.70" y2="333.35" stroke="#1a1a1a" stroke-width="0.9"/>
<text x="29.00" y="335.55" font-size="6.3" text-anchor="end" fill="#111" stroke="#111" stroke-width="0.18">3</text>
<line x1="31.50" y1="312.80" x2="33.70" y2="312.80" stroke="#1a1a1a" stroke-width="0.9"/>
<text x="29.00" y="315.00" font-size="6.3" text-anchor="end" fill="#111" stroke="#111" stroke-width="0.18">4</text>
<line x1="489.55" y1="395.00" x2="492.00" y2="395.00" stroke="#1a1a1a" stroke-width="0.9"/>
<text x="494.70" y="397.20" font-size="6.3" text-anchor="start" fill="#111" stroke="#111" stroke-width="0.18">0</text>
<line x1="489.55" y1="364.70" x2="492.00" y2="364.70" stroke="#1a1a1a" stroke-width="0.9"/>
<text x="494.70" y="366.90" font-size="6.3" text-anchor="start" fill="#111" stroke="#111" stroke-width="0.18">1</text>
<line x1="489.55" y1="334.40" x2="492.00" y2="334.40" stroke="#1a1a1a" stroke-width="0.9"/>
<text x="494.70" y="336.60" font-size="6.3" text-anchor="start" fill="#111" stroke="#111" stroke-width="0.18">2</text>
<line x1="489.55" y1="304.10" x2="492.00" y2="304.10" stroke="#1a1a1a" stroke-width="0.9"/>
<text x="494.70" y="306.30" font-size="6.3" text-anchor="start" fill="#111" stroke="#111" stroke-width="0.18">3</text>
<line x1="33.70" y1="395.00" x2="33.70" y2="396.80" stroke="#1a1a1a" stroke-width="0.9"/>
<line x1="66.27" y1="395.00" x2="66.27" y2="396.80" stroke="#1a1a1a" stroke-width="0.9"/>
<line x1="98.84" y1="395.00" x2="98.84" y2="396.80" stroke="#1a1a1a" stroke-width="0.9"/>
<line x1="131.41" y1="395.00" x2="131.41" y2="396.80" stroke="#1a1a1a" stroke-width="0.9"/>
<line x1="163.98" y1="395.00" x2="163.98" y2="396.80" stroke="#1a1a1a" stroke-width="0.9"/>
<line x1="196.55" y1="395.00" x2="196.55" y2="396.80" stroke="#1a1a1a" stroke-width="0.9"/>
<line x1="229.12" y1="395.00" x2="229.12" y2="396.80" stroke="#1a1a1a" stroke-width="0.9"/>
<line x1="261.69" y1="395.00" x2="261.69" y2="396.80" stroke="#1a1a1a" stroke-width="0.9"/>
<line x1="294.26" y1="395.00" x2="294.26" y2="396.80" stroke="#1a1a1a" stroke-width="0.9"/>
<line x1="326.83" y1="395.00" x2="326.83" y2="396.80" stroke="#1a1a1a" stroke-width="0.9"/>
<line x1="359.40" y1="395.00" x2="359.40" y2="396.80" stroke="#1a1a1a" stroke-width="0.9"/>
<line x1="391.97" y1="395.00" x2="391.97" y2="396.80" stroke="#1a1a1a" stroke-width="0.9"/>
<line x1="424.54" y1="395.00" x2="424.54" y2="396.80" stroke="#1a1a1a" stroke-width="0.9"/>
<line x1="457.11" y1="395.00" x2="457.11" y2="396.80" stroke="#1a1a1a" stroke-width="0.9"/>
<line x1="489.68" y1="395.00" x2="489.68" y2="396.80" stroke="#1a1a1a" stroke-width="0.9"/>
<rect x="40.70" y="389.40" width="9.50" height="5.60" fill="#000" stroke="#0a0a0a" stroke-width="0.8"/>
<line x1="54.95" y1="388.00" x2="54.95" y2="388.60" stroke="#111" stroke-width="0.9"/>
<line x1="52.45" y1="388.00" x2="57.45" y2="388.00" stroke="#111" stroke-width="0.9"/>
<rect x="50.20" y="389.00" width="9.50" height="6.00" fill="#fff" stroke="#0a0a0a" stroke-width="0.8"/>
<text x="50.60" y="406.80" font-size="6.6" text-anchor="middle" fill="#111" stroke="#111" stroke-width="0.18">BLANK</text>
<line x1="77.97" y1="384.40" x2="77.97" y2="386.40" stroke="#111" stroke-width="0.9"/>
<line x1="75.47" y1="384.40" x2="80.47" y2="384.40" stroke="#111" stroke-width="0.9"/>
<rect x="73.22" y="386.80" width="9.50" height="8.20" fill="#000" stroke="#0a0a0a" stroke-width="0.8"/>
<line x1="87.47" y1="387.20" x2="87.47" y2="387.60" stroke="#111" stroke-width="0.9"/>
<line x1="84.97" y1="387.20" x2="89.97" y2="387.20" stroke="#111" stroke-width="0.9"/>
<rect x="82.72" y="388.00" width="9.50" height="7.00" fill="#fff" stroke="#0a0a0a" stroke-width="0.8"/>
<text x="83.16" y="406.80" font-size="6.6" text-anchor="middle" fill="#111" stroke="#111" stroke-width="0.18">BSA</text>
<line x1="110.50" y1="369.50" x2="110.50" y2="373.00" stroke="#111" stroke-width="0.9"/>
<line x1="108.00" y1="369.50" x2="113.00" y2="369.50" stroke="#111" stroke-width="0.9"/>
<rect x="105.75" y="373.40" width="9.50" height="21.60" fill="#000" stroke="#0a0a0a" stroke-width="0.8"/>
<line x1="120.00" y1="371.25" x2="120.00" y2="375.50" stroke="#111" stroke-width="0.9"/>
<line x1="117.50" y1="371.25" x2="122.50" y2="371.25" stroke="#111" stroke-width="0.9"/>
<rect x="115.25" y="375.90" width="9.50" height="19.10" fill="#fff" stroke="#0a0a0a" stroke-width="0.8"/>
<text x="115.72" y="406.80" font-size="6.6" text-anchor="middle" fill="#111" stroke="#111" stroke-width="0.18">GPP</text>
<rect x="138.27" y="388.40" width="9.50" height="6.60" fill="#000" stroke="#0a0a0a" stroke-width="0.8"/>
<line x1="152.52" y1="386.00" x2="152.52" y2="386.75" stroke="#111" stroke-width="0.9"/>
<line x1="150.02" y1="386.00" x2="155.02" y2="386.00" stroke="#111" stroke-width="0.9"/>
<rect x="147.77" y="387.15" width="9.50" height="7.85" fill="#fff" stroke="#0a0a0a" stroke-width="0.8"/>
<text x="147.68" y="406.80" font-size="6.6" text-anchor="middle" fill="#111" stroke="#111" stroke-width="0.18"><tspan letter-spacing="-0.5">III</tspan>-11</text>
<line x1="175.55" y1="356.25" x2="175.55" y2="360.00" stroke="#111" stroke-width="0.9"/>
<line x1="173.05" y1="356.25" x2="178.05" y2="356.25" stroke="#111" stroke-width="0.9"/>
<rect x="170.80" y="360.40" width="9.50" height="34.60" fill="#000" stroke="#0a0a0a" stroke-width="0.8"/>
<line x1="185.05" y1="370.50" x2="185.05" y2="376.25" stroke="#111" stroke-width="0.9"/>
<line x1="182.55" y1="370.50" x2="187.55" y2="370.50" stroke="#111" stroke-width="0.9"/>
<rect x="180.30" y="376.65" width="9.50" height="18.35" fill="#fff" stroke="#0a0a0a" stroke-width="0.8"/>
<text x="180.24" y="406.80" font-size="6.6" text-anchor="middle" fill="#111" stroke="#111" stroke-width="0.18"><tspan letter-spacing="-0.5">III</tspan>-01</text>
<line x1="208.07" y1="325.75" x2="208.07" y2="330.00" stroke="#111" stroke-width="0.9"/>
<line x1="205.57" y1="325.75" x2="210.57" y2="325.75" stroke="#111" stroke-width="0.9"/>
<rect x="203.32" y="330.40" width="9.50" height="64.60" fill="#000" stroke="#0a0a0a" stroke-width="0.8"/>
<line x1="217.57" y1="309.00" x2="217.57" y2="322.00" stroke="#111" stroke-width="0.9"/>
<line x1="215.07" y1="309.00" x2="220.07" y2="309.00" stroke="#111" stroke-width="0.9"/>
<rect x="212.82" y="322.40" width="9.50" height="72.60" fill="#fff" stroke="#0a0a0a" stroke-width="0.8"/>
<text x="212.80" y="406.80" font-size="6.6" text-anchor="middle" fill="#111" stroke="#111" stroke-width="0.18"><tspan letter-spacing="-0.5">III</tspan>-01a</text>
<line x1="240.60" y1="324.25" x2="240.60" y2="331.75" stroke="#111" stroke-width="0.9"/>
<line x1="238.10" y1="324.25" x2="243.10" y2="324.25" stroke="#111" stroke-width="0.9"/>
<rect x="235.85" y="332.15" width="9.50" height="62.85" fill="#000" stroke="#0a0a0a" stroke-width="0.8"/>
<line x1="250.10" y1="350.50" x2="250.10" y2="355.00" stroke="#111" stroke-width="0.9"/>
<line x1="247.60" y1="350.50" x2="252.60" y2="350.50" stroke="#111" stroke-width="0.9"/>
<rect x="245.35" y="355.40" width="9.50" height="39.60" fill="#fff" stroke="#0a0a0a" stroke-width="0.8"/>
<text x="245.36" y="406.80" font-size="6.6" text-anchor="middle" fill="#111" stroke="#111" stroke-width="0.18"><tspan letter-spacing="-0.5">III</tspan>-01b</text>
<line x1="273.12" y1="368.25" x2="273.12" y2="370.75" stroke="#111" stroke-width="0.9"/>
<line x1="270.62" y1="368.25" x2="275.62" y2="368.25" stroke="#111" stroke-width="0.9"/>
<rect x="268.38" y="371.15" width="9.50" height="23.85" fill="#000" stroke="#0a0a0a" stroke-width="0.8"/>
<line x1="282.62" y1="372.00" x2="282.62" y2="375.00" stroke="#111" stroke-width="0.9"/>
<line x1="280.12" y1="372.00" x2="285.12" y2="372.00" stroke="#111" stroke-width="0.9"/>
<rect x="277.88" y="375.40" width="9.50" height="19.60" fill="#fff" stroke="#0a0a0a" stroke-width="0.8"/>
<text x="277.92" y="406.80" font-size="6.6" text-anchor="middle" fill="#111" stroke="#111" stroke-width="0.18"><tspan letter-spacing="-0.5">III</tspan>-01c</text>
<line x1="305.65" y1="337.50" x2="305.65" y2="343.00" stroke="#111" stroke-width="0.9"/>
<line x1="303.15" y1="337.50" x2="308.15" y2="337.50" stroke="#111" stroke-width="0.9"/>
<rect x="300.90" y="343.40" width="9.50" height="51.60" fill="#000" stroke="#0a0a0a" stroke-width="0.8"/>
<line x1="315.15" y1="360.00" x2="315.15" y2="365.75" stroke="#111" stroke-width="0.9"/>
<line x1="312.65" y1="360.00" x2="317.65" y2="360.00" stroke="#111" stroke-width="0.9"/>
<rect x="310.40" y="366.15" width="9.50" height="28.85" fill="#fff" stroke="#0a0a0a" stroke-width="0.8"/>
<text x="310.48" y="406.80" font-size="6.6" text-anchor="middle" fill="#111" stroke="#111" stroke-width="0.18"><tspan letter-spacing="-0.5">III</tspan>-30</text>
<line x1="338.17" y1="369.50" x2="338.17" y2="370.75" stroke="#111" stroke-width="0.9"/>
<line x1="335.67" y1="369.50" x2="340.67" y2="369.50" stroke="#111" stroke-width="0.9"/>
<rect x="333.42" y="371.15" width="9.50" height="23.85" fill="#000" stroke="#0a0a0a" stroke-width="0.8"/>
<line x1="347.67" y1="378.75" x2="347.67" y2="380.50" stroke="#111" stroke-width="0.9"/>
<line x1="345.17" y1="378.75" x2="350.17" y2="378.75" stroke="#111" stroke-width="0.9"/>
<rect x="342.92" y="380.90" width="9.50" height="14.10" fill="#fff" stroke="#0a0a0a" stroke-width="0.8"/>
<text x="343.04" y="406.80" font-size="6.6" text-anchor="middle" fill="#111" stroke="#111" stroke-width="0.18"><tspan letter-spacing="-0.5">III</tspan>-30a</text>
<line x1="370.70" y1="354.25" x2="370.70" y2="358.75" stroke="#111" stroke-width="0.9"/>
<line x1="368.20" y1="354.25" x2="373.20" y2="354.25" stroke="#111" stroke-width="0.9"/>
<rect x="365.95" y="359.15" width="9.50" height="35.85" fill="#000" stroke="#0a0a0a" stroke-width="0.8"/>
<line x1="380.20" y1="372.50" x2="380.20" y2="374.25" stroke="#111" stroke-width="0.9"/>
<line x1="377.70" y1="372.50" x2="382.70" y2="372.50" stroke="#111" stroke-width="0.9"/>
<rect x="375.45" y="374.65" width="9.50" height="20.35" fill="#fff" stroke="#0a0a0a" stroke-width="0.8"/>
<text x="375.60" y="406.80" font-size="6.6" text-anchor="middle" fill="#111" stroke="#111" stroke-width="0.18"><tspan letter-spacing="-0.5">III</tspan>-30b</text>
<line x1="403.22" y1="351.25" x2="403.22" y2="355.50" stroke="#111" stroke-width="0.9"/>
<line x1="400.72" y1="351.25" x2="405.72" y2="351.25" stroke="#111" stroke-width="0.9"/>
<rect x="398.47" y="355.90" width="9.50" height="39.10" fill="#000" stroke="#0a0a0a" stroke-width="0.8"/>
<line x1="412.72" y1="368.00" x2="412.72" y2="370.00" stroke="#111" stroke-width="0.9"/>
<line x1="410.22" y1="368.00" x2="415.22" y2="368.00" stroke="#111" stroke-width="0.9"/>
<rect x="407.97" y="370.40" width="9.50" height="24.60" fill="#fff" stroke="#0a0a0a" stroke-width="0.8"/>
<text x="408.16" y="406.80" font-size="6.6" text-anchor="middle" fill="#111" stroke="#111" stroke-width="0.18"><tspan letter-spacing="-0.5">III</tspan>-30c</text>
<line x1="435.75" y1="320.50" x2="435.75" y2="323.00" stroke="#111" stroke-width="0.9"/>
<line x1="433.25" y1="320.50" x2="438.25" y2="320.50" stroke="#111" stroke-width="0.9"/>
<rect x="431.00" y="323.40" width="9.50" height="71.60" fill="#000" stroke="#0a0a0a" stroke-width="0.8"/>
<line x1="445.25" y1="317.50" x2="445.25" y2="322.70" stroke="#111" stroke-width="0.9"/>
<line x1="442.75" y1="317.50" x2="447.75" y2="317.50" stroke="#111" stroke-width="0.9"/>
<rect x="440.50" y="323.10" width="9.50" height="71.90" fill="#fff" stroke="#0a0a0a" stroke-width="0.8"/>
<text x="441.32" y="406.80" font-size="6.6" text-anchor="middle" fill="#111" stroke="#111" stroke-width="0.18">CRP</text>
<line x1="468.27" y1="382.40" x2="468.27" y2="383.60" stroke="#111" stroke-width="0.9"/>
<line x1="465.77" y1="382.40" x2="470.77" y2="382.40" stroke="#111" stroke-width="0.9"/>
<rect x="463.52" y="384.00" width="9.50" height="11.00" fill="#000" stroke="#0a0a0a" stroke-width="0.8"/>
<line x1="477.77" y1="374.60" x2="477.77" y2="378.00" stroke="#111" stroke-width="0.9"/>
<line x1="475.27" y1="374.60" x2="480.27" y2="374.60" stroke="#111" stroke-width="0.9"/>
<rect x="473.02" y="378.40" width="9.50" height="16.60" fill="#fff" stroke="#0a0a0a" stroke-width="0.8"/>
<text x="473.88" y="406.80" font-size="6.6" text-anchor="middle" fill="#111" stroke="#111" stroke-width="0.18"><tspan font-size="6.3">GFOGER</tspan></text>
<rect x="42.4" y="315.80" width="6.5" height="6.2" fill="#000"/>
<text x="56.00" y="321.80" font-size="8.2" text-anchor="start" fill="#111" stroke="#111" stroke-width="0.18">human D1D2</text>
<rect x="42.8" y="326.35" width="5.7" height="5.4" fill="#fff" stroke="#111" stroke-width="0.8"/>
<text x="56.00" y="331.95" font-size="8.2" text-anchor="start" fill="#111" stroke="#111" stroke-width="0.18">murine D1D2</text>
<text x="6.00" y="378.15" font-size="7.6" text-anchor="start" textLength="46.00" lengthAdjust="spacingAndGlyphs" transform="rotate(-90 6.00 378.15)" fill="#111" stroke="#111" stroke-width="0.18">hD1D2 ABS</text>
<text x="9.00" y="332.05" font-size="5.6" text-anchor="start" textLength="9.10" lengthAdjust="spacingAndGlyphs" transform="rotate(-90 9.00 332.05)" fill="#111" stroke="#111" stroke-width="0.18">450</text>
<text x="15.10" y="380.65" font-size="7.4" text-anchor="start" textLength="62.10" lengthAdjust="spacingAndGlyphs" transform="rotate(-90 15.10 380.65)" fill="#111" stroke="#111" stroke-width="0.18">(mean ± s.e.; n=6)</text>
<text x="513.60" y="321.45" font-size="7.6" text-anchor="start" textLength="48.00" lengthAdjust="spacingAndGlyphs" transform="rotate(90 513.60 321.45)" fill="#111" stroke="#111" stroke-width="0.18">mD1D2 ABS</text>
<text x="511.50" y="369.25" font-size="5.6" text-anchor="start" textLength="9.50" lengthAdjust="spacingAndGlyphs" transform="rotate(90 511.50 369.25)" fill="#111" stroke="#111" stroke-width="0.18">450</text>
<text x="504.70" y="318.95" font-size="7.4" text-anchor="start" textLength="61.30" lengthAdjust="spacingAndGlyphs" transform="rotate(90 504.70 318.95)" fill="#111" stroke="#111" stroke-width="0.18">(mean ± s.e.; n=4)</text>
</svg>
</body></html>
